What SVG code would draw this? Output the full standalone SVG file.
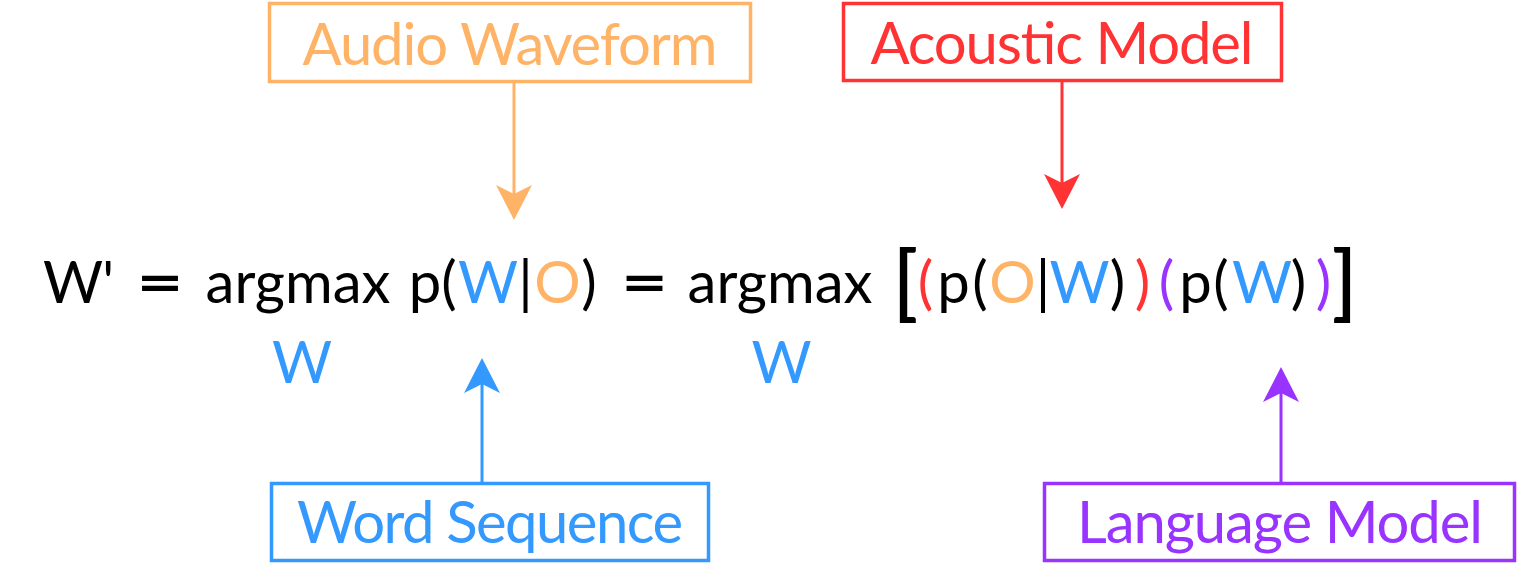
<svg xmlns="http://www.w3.org/2000/svg" width="1524" height="564" viewBox="0 0 1524 564">
<style>
text{font-family:Lato,"Open Sans","DejaVu Sans",sans-serif;font-size:58px;}
.box{fill:#fff;stroke-width:3.5;}
.lbl{text-anchor:middle;}
.eq text{text-anchor:middle;fill:#000;}
.eq .o{fill:#FFB366;} .eq .r{fill:#FF3333;} .eq .b{fill:#3399FF;} .eq .p{fill:#9933FF;}
.eq .eqs{font-weight:bold;}
.eq .brk{font-size:82px;font-weight:600;}
.conn line{stroke-width:3;}
</style>
<defs>
<marker id="ahO" markerUnits="userSpaceOnUse" orient="auto" overflow="visible" markerWidth="40" markerHeight="40" refX="0" refY="0"><path d="M26,0 L-9,-18 L0,0 L-9,18 Z" fill="#FFB366"/></marker>
<marker id="ahR" markerUnits="userSpaceOnUse" orient="auto" overflow="visible" markerWidth="40" markerHeight="40" refX="0" refY="0"><path d="M26,0 L-9,-18 L0,0 L-9,18 Z" fill="#FF3333"/></marker>
<marker id="ahB" markerUnits="userSpaceOnUse" orient="auto" overflow="visible" markerWidth="40" markerHeight="40" refX="0" refY="0"><path d="M26,0 L-9,-18 L0,0 L-9,18 Z" fill="#3399FF"/></marker>
<marker id="ahP" markerUnits="userSpaceOnUse" orient="auto" overflow="visible" markerWidth="40" markerHeight="40" refX="0" refY="0"><path d="M26,0 L-9,-18 L0,0 L-9,18 Z" fill="#9933FF"/></marker>
</defs>
<rect width="1524" height="564" fill="#fff"/>
<g id="connectors" class="conn">
<line x1="514" y1="83" x2="514" y2="194" stroke="#FFB366" marker-end="url(#ahO)"/>
<line x1="1062" y1="82" x2="1062" y2="183" stroke="#FF3333" marker-end="url(#ahR)"/>
<line x1="482" y1="482" x2="482" y2="384" stroke="#3399FF" marker-end="url(#ahB)"/>
<line x1="1281" y1="482" x2="1281" y2="393" stroke="#9933FF" marker-end="url(#ahP)"/>
</g>
<g id="audio-waveform">
<rect class="box" x="269.5" y="3.5" width="481" height="78" stroke="#FFB366"/>
<text class="lbl" x="510" y="65" fill="#FFB366" textLength="415">Audio Waveform</text>
</g>
<g id="acoustic-model">
<rect class="box" x="843.5" y="3.5" width="438" height="77" stroke="#FF3333"/>
<text class="lbl" x="1062" y="64" fill="#FF3333" textLength="383">Acoustic Model</text>
</g>
<g id="word-sequence">
<rect class="box" x="271.5" y="483.5" width="437" height="77" stroke="#3399FF"/>
<text class="lbl" x="490" y="543" fill="#3399FF" textLength="386">Word Sequence</text>
</g>
<g id="language-model">
<rect class="box" x="1044.5" y="483.5" width="470" height="77" stroke="#9933FF"/>
<text class="lbl" x="1280" y="543" fill="#9933FF" textLength="406">Language Model</text>
</g>
<g id="equation" class="eq">
<text x="78.5" y="303" textLength="71">W'</text>
<text x="160" y="303" textLength="47" lengthAdjust="spacingAndGlyphs" class="eqs">=</text>
<text x="298" y="303">argmax</text>
<text x="302" y="383" class="b">W</text>
<text x="425" y="303">p</text>
<text x="449" y="303">(</text>
<text x="488" y="303" class="b">W</text>
<text x="525.5" y="303">|</text>
<text x="557.5" y="303" class="o">O</text>
<text x="589" y="303">)</text>
<text x="644.5" y="303" textLength="47" lengthAdjust="spacingAndGlyphs" class="eqs">=</text>
<text x="780" y="303">argmax</text>
<text x="781.5" y="383" class="b">W</text>
<text x="905.5" y="311" class="brk">[</text>
<text x="925.5" y="303" class="r">(</text>
<text x="953.5" y="303">p</text>
<text x="980" y="303">(</text>
<text x="1012.5" y="303" class="o">O</text>
<text x="1043" y="303">|</text>
<text x="1079.5" y="303" class="b">W</text>
<text x="1117.5" y="303">)</text>
<text x="1142.5" y="303" class="r">)</text>
<text x="1166.5" y="303" class="p">(</text>
<text x="1195.5" y="303">p</text>
<text x="1221" y="303">(</text>
<text x="1262" y="303" class="b">W</text>
<text x="1298.5" y="303">)</text>
<text x="1323.5" y="303" class="p">)</text>
<text x="1344.5" y="311" class="brk">]</text>
</g>
</svg>
